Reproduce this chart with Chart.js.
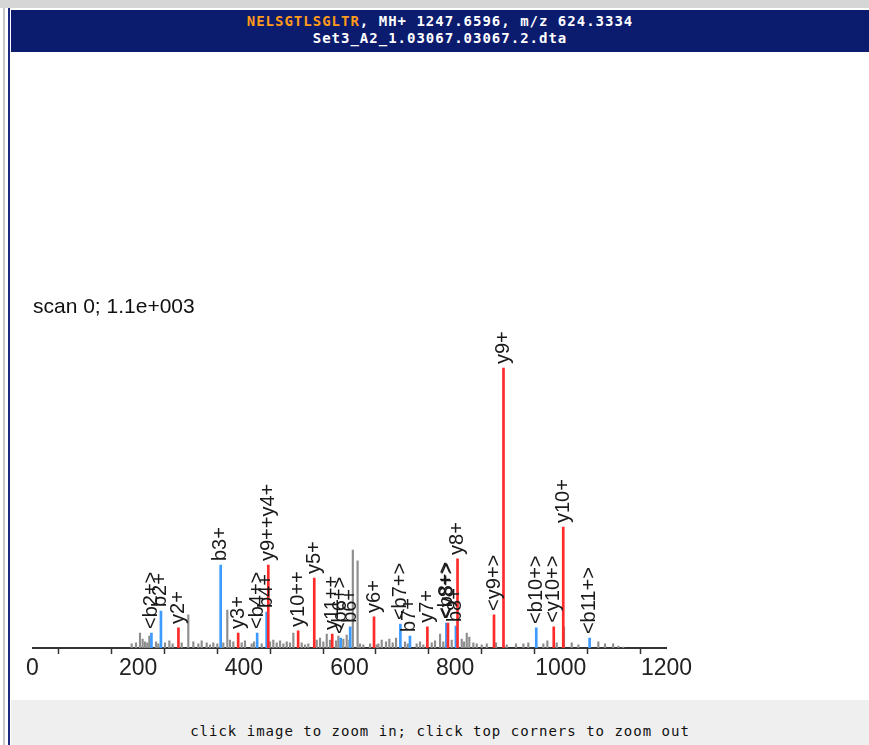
<!DOCTYPE html>
<html>
<head>
<meta charset="utf-8">
<script src="https://cdn.jsdelivr.net/npm/chart.js@4.4.0/dist/chart.umd.min.js"></script>
<style>
  html, body { margin:0; padding:0; background:#fff; width:869px; height:745px; overflow:hidden; position:relative; }
  #topstrip { position:absolute; left:0; top:0; width:869px; height:8px; background:#d6d6d6; }
  #leftline1 { position:absolute; left:3px; top:8px; width:2px; height:737px; background:#c8c8c8; }
  #leftline2 { position:absolute; left:8px; top:8px; width:2px; height:737px; background:#1b2a80; }
  #banner { position:absolute; left:11px; top:10px; width:858px; height:42px; background:#0b1b6e;
            color:#fff; font-family:"DejaVu Sans Mono", monospace; font-weight:bold; font-size:14px;
            letter-spacing:1px; text-align:center; line-height:17px; }
  #banner .l1 { padding-top:3px; }
  #banner .pep { color:#ff9a1a; }
  #footer { position:absolute; left:11px; top:700px; width:858px; height:45px; background:#efefef;
            font-family:"DejaVu Sans Mono", monospace; font-size:14px; letter-spacing:1px; color:#111;
            text-align:center; }
  #footer span { position:absolute; left:0; right:0; top:23px; }
  #scan { position:absolute; left:33px; top:294px; font-family:"Liberation Sans", Arial, sans-serif; font-size:21px; color:#111; }
  #c { position:absolute; left:10px; top:52px; }
</style>
</head>
<body>
<div id="topstrip"></div>
<div id="leftline1"></div>
<div id="leftline2"></div>
<div id="banner"><div class="l1"><span class="pep">NELSGTLSGLTR</span>, MH+ 1247.6596, m/z 624.3334</div><div>Set3_A2_1.03067.03067.2.dta</div></div>
<canvas id="c" width="859" height="648" style="width:859px;height:648px;"></canvas>
<div id="scan">scan 0; 1.1e+003</div>
<div id="footer"><span>click image to zoom in; click top corners to zoom out</span></div>
<script>
// ---- data ----
const ionLabels = ["<b2+>","b2+","y2+","b3+","y3+","<b4+>","b4+","y9++y4+","y10++","y5+","y11++","<b6+>","b6+","y6+","<b7+>","b7+","y7+","<b8+>","<y8+>","b8+","y8+","<y9+>","y9+","<b10+>","<y10+>","y10+","<b11+>"];
const ionMz = [225.1,243.1,276.2,356.2,389.3,425.2,443.2,446.3,502.8,533.3,567.3,583.3,601.3,646.4,696.3,714.4,747.4,783.4,786.4,801.4,804.5,873.5,891.5,953.5,986.6,1004.6,1054.5];
const ionIntensity = [59,145,79,326,59,59,141,326,67,275,55,39,83,122,94,47,83,98,98,86,350,130,1100,79,83,475,39];
const ionType = ["b","b","y","b","y","b","b","y","y","y","y","b","b","y","b","b","y","b","y","b","y","y","y","b","y","y","b"];

const otherMz = [187.7,195.9,203.5,208.5,213,217.3,221.1,233.8,238.2,250.8,259,265.3,282.4,294.9,304.4,313.9,320.2,329.7,336,342.3,349.8,361.2,368.7,373.8,380.1,395.9,402.2,414.9,419.3,433.8,449.6,455.8,462.2,468.5,474.8,481.2,487.4,493.7,509.5,515.8,522.1,537.9,544.2,550.5,556.9,563.1,574.5,578.9,588.3,594.7,599.7,606.3,615.3,619.9,626.2,638.9,651.5,654.6,661,669.1,675.4,681.8,688.1,705.1,710.2,727.2,733.5,739.7,755.6,761.9,771.4,777.6,793.5,812.4,816.8,821.9,826.8,834.4,840.8,850.3,859.8,877.3,897.6,915.2,929.1,938.5,966.9,974.5,992.2,1006,1020.6,1033.2,1071,1083.7,1099,1109,1118];
const otherIntensity = [16,20,59,35,24,20,47,24,16,20,28,16,20,130,24,16,28,20,12,20,16,20,149,31,24,20,28,16,24,16,24,31,20,28,16,24,20,59,20,12,16,31,39,24,55,31,28,47,35,51,31,385,342,16,12,16,12,16,31,24,35,20,39,24,16,16,24,12,20,28,55,24,31,35,24,59,43,20,16,12,16,20,12,16,16,20,16,28,20,83,20,12,24,16,16,8,4];

const xTicks = [0,200,400,600,800,1000,1200];
const scanLabel = "scan 0; 1.1e+003";

// ---- build ----
const bPts = [], yPts = [];
ionMz.forEach((m,i)=>{ (ionType[i]==="b"?bPts:yPts).push({x:m,y:ionIntensity[i]}); });
const gPts = otherMz.map((m,i)=>({x:m,y:otherIntensity[i]}));

const labelPlugin = {
  id:'ionLabels',
  afterDatasetsDraw(chart){
    const ctx = chart.ctx, xs = chart.scales.x, ys = chart.scales.y;
    ctx.save();
    ctx.font = '20px "Liberation Sans", Arial, sans-serif';
    ctx.fillStyle = '#1a1a1a';
    ctx.textAlign = 'left';
    ctx.textBaseline = 'middle';
    ionLabels.forEach((lab,i)=>{
      const px = xs.getPixelForValue(ionMz[i]);
      const py = ys.getPixelForValue(ionIntensity[i]);
      ctx.save();
      ctx.translate(px, py - 4);
      ctx.rotate(-Math.PI/2);
      ctx.fillText(lab, 0, 0);
      ctx.restore();
    });
    ctx.restore();
  }
};

new Chart(document.getElementById('c'), {
  type:'bar',
  data:{ datasets:[
    { data:yPts, backgroundColor:'#ff2a2a', barThickness:2, grouped:false, borderWidth:0, order:1 },
    { data:bPts, backgroundColor:'#3d9bff', barThickness:2, grouped:false, borderWidth:0, order:2 },
    { data:gPts, backgroundColor:'#8e8e8e', barThickness:1.5, grouped:false, borderWidth:0, order:3 }
  ]},
  options:{
    responsive:false, animation:false,
    layout:{ padding:{ left:22.5, right:202.5, top:246, bottom:0 } },
    plugins:{ legend:{display:false}, tooltip:{enabled:false} },
    scales:{
      x:{ type:'linear', min:0, max:1200, offset:false, position:'bottom',
          grid:{ drawOnChartArea:false, drawTicks:true, tickLength:6, tickColor:'#333', tickWidth:1.5 },
          border:{ display:true, color:'#333', width:2 },
          ticks:{ stepSize:100, autoSkip:false, maxRotation:0, padding:1, color:'#222',
                  font:{ family:'"Liberation Sans", Arial, sans-serif', size:23 },
                  callback:(v)=> xTicks.includes(v) ? String(v) : '' },
          afterFit:(s)=>{ s.height = 52; } },
      y:{ display:false, min:0, max:1375 }
    }
  },
  plugins:[labelPlugin]
});
</script>
</body>
</html>
